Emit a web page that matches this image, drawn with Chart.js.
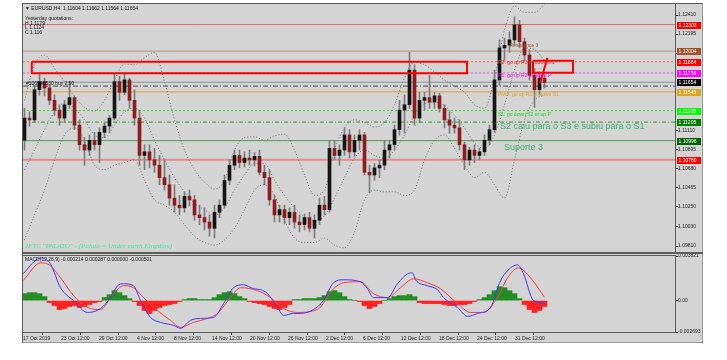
<!DOCTYPE html>
<html lang="pt-BR">
<head>
<meta charset="utf-8">
<title>EURUSD H4</title>
<script src="https://cdn.jsdelivr.net/npm/chart.js@4.4.1/dist/chart.umd.min.js"></script>
<style>
  body { margin: 0; width: 727px; height: 360px; background: #ffffff; position: relative; overflow: hidden; }
  #janela { position: absolute; left: 22px; top: 3px; width: 679px; height: 338px; background: #d4d4d4;
            border-left: 1px solid #5c5c5c; border-top: 1px solid #5c5c5c; border-right: 1px solid #9a9a9a; border-bottom: 1px solid #9a9a9a; }
  #graficoPreco { position: absolute; left: 0; top: 0; }
  #graficoMacd { position: absolute; left: 0; top: 253px; }
</style>
</head>
<body>
<div id="janela"></div>
<canvas id="graficoPreco" width="727" height="253"></canvas>
<canvas id="graficoMacd" width="727" height="107"></canvas>
<script>
const FONTE = '"Liberation Sans", Arial, sans-serif';

// Velas (cada vela = ~3 barras H4)
const aberturas = [
  1.1100, 1.1125, 1.1123, 1.1157, 1.1166, 1.1159, 1.1145, 1.1134, 1.1125, 1.1140,
  1.1148, 1.1117, 1.1095, 1.1089, 1.1100, 1.1095, 1.1109, 1.1116, 1.1125, 1.1166,
  1.1154, 1.1168, 1.1145, 1.1125, 1.1083, 1.1087, 1.1078, 1.1072, 1.1058, 1.1050,
  1.1035, 1.1027, 1.1024, 1.1037, 1.1033, 1.1016, 1.1013, 1.1008, 1.1001, 1.1019,
  1.1027, 1.1055, 1.1072, 1.1083, 1.1075, 1.1080, 1.1078, 1.1082, 1.1064, 1.1058,
  1.1033, 1.1016, 1.1022, 1.1013, 1.1019, 1.1008, 1.1005, 1.1013, 1.1001, 1.1010,
  1.1027, 1.1022, 1.1091, 1.1083, 1.1089, 1.1106, 1.1087, 1.1100, 1.1106, 1.1064,
  1.1061, 1.1069, 1.1072, 1.1089, 1.1095, 1.1112, 1.1134, 1.1140, 1.1179, 1.1125,
  1.1145, 1.1148, 1.1143, 1.1150, 1.1136, 1.1123, 1.1117, 1.1114, 1.1095, 1.1078,
  1.1089, 1.1083, 1.1087, 1.1100, 1.1112, 1.1168, 1.1204, 1.1207, 1.1213, 1.1230,
  1.1211, 1.1196, 1.1173, 1.1157, 1.1170
];
const maximas = [
  1.1136, 1.1132, 1.1162, 1.1176, 1.1170, 1.1162, 1.1151, 1.1140, 1.1145, 1.1166,
  1.1150, 1.1123, 1.1103, 1.1106, 1.1109, 1.1114, 1.1120, 1.1128, 1.1175, 1.1172,
  1.1176, 1.1170, 1.1157, 1.1134, 1.1095, 1.1095, 1.1091, 1.1083, 1.1078, 1.1061,
  1.1050, 1.1038, 1.1042, 1.1044, 1.1038, 1.1027, 1.1024, 1.1016, 1.1027, 1.1033,
  1.1061, 1.1078, 1.1089, 1.1089, 1.1087, 1.1089, 1.1086, 1.1089, 1.1072, 1.1067,
  1.1038, 1.1027, 1.1027, 1.1024, 1.1027, 1.1016, 1.1017, 1.1019, 1.1016, 1.1035,
  1.1037, 1.1100, 1.1100, 1.1095, 1.1114, 1.1112, 1.1106, 1.1112, 1.1109, 1.1072,
  1.1074, 1.1078, 1.1100, 1.1100, 1.1117, 1.1145, 1.1151, 1.1199, 1.1185, 1.1154,
  1.1154, 1.1173, 1.1154, 1.1153, 1.1140, 1.1132, 1.1125, 1.1123, 1.1098, 1.1092,
  1.1095, 1.1091, 1.1106, 1.1117, 1.1179, 1.1213, 1.1215, 1.1222, 1.1239, 1.1235,
  1.1215, 1.1202, 1.1181, 1.1177, 1.1173
];
const minimas = [
  1.1089, 1.1116, 1.1120, 1.1151, 1.1150, 1.1140, 1.1128, 1.1117, 1.1120, 1.1136,
  1.1112, 1.1089, 1.1072, 1.1083, 1.1089, 1.1075, 1.1103, 1.1109, 1.1123, 1.1145,
  1.1151, 1.1136, 1.1117, 1.1072, 1.1067, 1.1069, 1.1064, 1.1050, 1.1044, 1.1027,
  1.1019, 1.1016, 1.1019, 1.1026, 1.1010, 1.1005, 1.0999, 1.0992, 1.0990, 1.1013,
  1.1024, 1.1050, 1.1067, 1.1069, 1.1070, 1.1072, 1.1071, 1.1061, 1.1050, 1.1027,
  1.1008, 1.1008, 1.1006, 1.1005, 1.1001, 1.0997, 1.0999, 1.0997, 1.0990, 1.1005,
  1.1016, 1.1019, 1.1078, 1.1072, 1.1083, 1.1080, 1.1082, 1.1089, 1.1061, 1.1041,
  1.1055, 1.1058, 1.1067, 1.1080, 1.1089, 1.1106, 1.1108, 1.1136, 1.1117, 1.1120,
  1.1134, 1.1136, 1.1136, 1.1132, 1.1114, 1.1108, 1.1108, 1.1089, 1.1067, 1.1072,
  1.1075, 1.1078, 1.1083, 1.1095, 1.1109, 1.1162, 1.1190, 1.1199, 1.1207, 1.1204,
  1.1190, 1.1168, 1.1137, 1.1151, 1.1159
];
const fechamentos = [
  1.1125, 1.1123, 1.1157, 1.1166, 1.1159, 1.1145, 1.1134, 1.1125, 1.1140, 1.1148,
  1.1117, 1.1095, 1.1089, 1.1100, 1.1095, 1.1109, 1.1116, 1.1125, 1.1166, 1.1154,
  1.1168, 1.1145, 1.1125, 1.1083, 1.1087, 1.1078, 1.1072, 1.1058, 1.1050, 1.1035,
  1.1027, 1.1024, 1.1037, 1.1033, 1.1016, 1.1013, 1.1008, 1.1001, 1.1019, 1.1027,
  1.1055, 1.1072, 1.1083, 1.1075, 1.1080, 1.1078, 1.1082, 1.1064, 1.1058, 1.1033,
  1.1016, 1.1022, 1.1013, 1.1019, 1.1008, 1.1005, 1.1013, 1.1001, 1.1010, 1.1027,
  1.1022, 1.1091, 1.1083, 1.1089, 1.1106, 1.1087, 1.1100, 1.1106, 1.1064, 1.1061,
  1.1069, 1.1072, 1.1089, 1.1095, 1.1112, 1.1134, 1.1140, 1.1179, 1.1125, 1.1145,
  1.1148, 1.1143, 1.1150, 1.1136, 1.1123, 1.1117, 1.1114, 1.1095, 1.1078, 1.1089,
  1.1083, 1.1087, 1.1100, 1.1112, 1.1168, 1.1204, 1.1207, 1.1213, 1.1230, 1.1211,
  1.1196, 1.1173, 1.1157, 1.1170, 1.1165
];

// Bandas de Bollinger (pontos lidos a cada 2 velas)
const bandaX = [
  0, 2, 4, 6, 8, 10, 12, 14, 16, 18, 20, 22, 24, 26, 28, 30, 32, 34, 36, 38,
  40, 42, 44, 46, 48, 50, 52, 54, 56, 58, 60, 62, 64, 66, 68, 70, 72, 74, 76, 78,
  80, 82, 84, 86, 88, 90, 92, 94, 96, 98, 100, 102, 104
];
const bandaSuperior = [
  1.1145, 1.1185, 1.1196, 1.1181, 1.1166, 1.1149, 1.1137, 1.1133, 1.1145, 1.1168,
  1.1186, 1.1185, 1.1193, 1.1199, 1.1166, 1.1123, 1.1089, 1.1067, 1.1053, 1.1045,
  1.1055, 1.1089, 1.1103, 1.1104, 1.1100, 1.1105, 1.1107, 1.1089, 1.1061, 1.1038,
  1.1044, 1.1089, 1.1114, 1.1123, 1.1120, 1.1115, 1.1120, 1.1140, 1.1170, 1.1188,
  1.1185, 1.1177, 1.1168, 1.1161, 1.1154, 1.1140, 1.1136, 1.1170, 1.1224, 1.1251,
  1.1244, 1.1244, 1.1253
];
const bandaMedia = [
  1.1067, 1.1089, 1.1112, 1.1132, 1.1142, 1.1136, 1.1123, 1.1106, 1.1103, 1.1117,
  1.1132, 1.1136, 1.1125, 1.1100, 1.1078, 1.1058, 1.1042, 1.1029, 1.1022, 1.1016,
  1.1024, 1.1044, 1.1061, 1.1074, 1.1074, 1.1055, 1.1038, 1.1024, 1.1014, 1.1010,
  1.1015, 1.1035, 1.1058, 1.1080, 1.1089, 1.1083, 1.1080, 1.1089, 1.1106, 1.1128,
  1.1141, 1.1143, 1.1139, 1.1128, 1.1114, 1.1097, 1.1091, 1.1106, 1.1140, 1.1179,
  1.1204, 1.1202, 1.1190
];
const bandaInferior = [
  1.0988, 1.1016, 1.1044, 1.1078, 1.1106, 1.1114, 1.1100, 1.1072, 1.1067, 1.1072,
  1.1075, 1.1078, 1.1055, 1.1033, 1.1027, 1.1019, 1.1005, 1.0992, 1.0985, 1.0982,
  1.0988, 1.1001, 1.1022, 1.1044, 1.1050, 1.1038, 1.1010, 1.0990, 1.0985, 1.0985,
  1.0990, 1.0982, 1.0979, 1.0997, 1.1033, 1.1044, 1.1042, 1.1042, 1.1038, 1.1044,
  1.1078, 1.1100, 1.1106, 1.1091, 1.1072, 1.1058, 1.1064, 1.1050, 1.1035, 1.1078,
  1.1123, 1.1145, 1.1151
];

// Níveis horizontais (pivôs, suportes, resistências, preço atual)
const niveis = [1.12303, 1.12004, 1.11884, 1.11758, 1.11654, 1.11545, 1.11335, 1.11205, 1.10996, 1.10780];
const nivelOrdem = 1.11610;
const nivelCiano = 1.10810;

// Escala de preços e de tempo
const ticksPreco = [1.12410, 1.12195, 1.11980, 1.11110, 1.10895, 1.10680, 1.10465, 1.10250, 1.10030, 1.09810];
const posicoesTempo = [-0.3, 7.3, 14.9, 22.5, 29.9, 37.5, 45.1, 52.7, 60.3, 67.7, 75.3, 82.9, 90.5, 98.1];
const rotulosTempo = ["17 Oct 2019", "23 Oct 12:00", "29 Oct 12:00", "4 Nov 12:00", "8 Nov 12:00", "14 Nov 12:00",
  "20 Nov 12:00", "26 Nov 12:00", "2 Dec 12:00", "6 Dec 12:00", "12 Dec 12:00", "18 Dec 12:00",
  "24 Dec 12:00", "31 Dec 12:00"];

// MACD(12,26,9)
const histograma = [
  0.000594, 0.000679, 0.000679, 0.000594, 0.00034,
  -0.00017, -0.000425, -0.000764, -0.000679, -0.000509, -0.000425, -0.000594, -0.000509, -0.00034, -0.00017, -0.000085,
  0.000255, 0.000509, 0.000849, 0.000679, 0.000425, 0.00017,
  -0.000085, -0.000425, -0.000849, -0.001104, -0.000849, -0.000594, -0.000425, -0.00034, -0.000255, -0.000085,
  0.000085, 0.00017, 0.00017, 0.000085, 0.000085, 0.000085,
  0.000255, 0.000509, 0.000679, 0.000764, 0.000594, 0.00034, 0.00017,
  -0.000085, -0.00017, -0.000255, -0.00034, -0.000509, -0.000679, -0.000764, -0.000594, -0.00034,
  0.000085, 0.000085, 0.00017, 0.00017, 0.00017, 0.000255, 0.000425, 0.000764, 0.000849, 0.000679, 0.00034, 0.000085,
  0, -0.000085, -0.000425, -0.000679, -0.000509, -0.000255, 0,
  0.00017, 0.00034, 0.000425, 0.000425, 0.000509, 0.00034,
  -0.00017, -0.000255, -0.000255, -0.000255, -0.000255, -0.00034, -0.000425, -0.000425, -0.00034, -0.00034, -0.000255, -0.000085,
  0.000085, 0.000255, 0.000509, 0.000849, 0.001189, 0.001104, 0.000849, 0.000594, 0.00017,
  -0.00034, -0.000764, -0.001019, -0.000849, -0.000501
];
const macdX = [-0.3, 2.6, 3.6, 5.2, 7.2, 9.8, 12.6, 15.2, 17.2, 18.6, 19.8, 21.8, 23.2, 25.2, 27.2, 29.8, 31.2,
  33.2, 35.2, 37.8, 39.8, 41.8, 43.8, 45.8, 47.2, 48.6, 50.6, 51.8, 53.8, 55.2, 57.8, 59.8, 61.8, 63.8, 67.2,
  68.6, 69.8, 72.6, 74.6, 76.6, 77.6, 78.2, 80.6, 82.6, 83.8, 86.6, 88.6, 90.6, 93.2, 95.2, 97.2, 98.6, 99.8, 101.8, 104];
const macdLinha = [0.002292, 0.003566, 0.003651, 0.003141, 0.001104, 0, -0.001019, -0.000679, 0.000255, 0.001274,
  0.001443, 0.001274, 0, -0.001443, -0.001868, -0.002123, -0.002377, -0.001698, -0.001528, -0.001443, -0.000255,
  0.001104, 0.001358, 0.001019, 0.000934, 0.000594, -0.000594, -0.001274, -0.001104, -0.001104, -0.000764, 0,
  0.001528, 0.001783, 0.001613, 0.001019, 0.000255, 0.000255, 0.001443, 0.002292, 0.002377, 0.001783, 0.001274,
  0.000934, 0.000255, -0.000594, -0.001358, -0.001104, -0.000594, 0.001698, 0.002802, 0.003056, 0.002292, 0, -0.000214];
const sinalX = [-0.3, 3.2, 4.6, 7.2, 9.8, 12.6, 15.2, 17.8, 19.8, 21.8, 23.8, 26.6, 29.2, 31.2, 33.8, 36.6, 38.6,
  41.2, 43.2, 46.6, 49.2, 51.8, 54.6, 58.6, 61.8, 63.8, 67.2, 69.8, 72.6, 75.2, 77.8, 80.6, 83.2, 86.6, 89.2,
  91.8, 94.6, 96.6, 98.8, 101.2, 104];
const sinalLinha = [0.001698, 0.003226, 0.003141, 0.001953, 0.000425, -0.000594, -0.000764, 0.000594, 0.001274,
  0.001104, 0.000255, -0.000849, -0.001698, -0.002292, -0.001868, -0.001528, -0.001104, 0.000255, 0.001104,
  0.000849, 0.000255, -0.000679, -0.001019, -0.000764, 0.001019, 0.001528, 0.001613, 0.000594, 0.000255,
  0.001104, 0.001868, 0.001528, 0.001019, -0.000255, -0.001019, -0.001019, 0.000255, 0.001953, 0.002802,
  0.001953, 0.000287];
const ticksMacd = [0.003821, 0, -0.002693];
const rotulosMacd = ["0.003821", "0.00", "-0.002693"];

// Objetos desenhados sobre o gráfico (tempo em índice de vela, preço)
const retangulos = [
  { x0: 1.45, x1: 88.5, p0: 1.11884, p1: 1.11756 },
  { x0: 101.7, x1: 109.7, p0: 1.11895, p1: 1.11760 }
];
const linhaSeta = [{ x: 103.1, y: 1.1164 }, { x: 104.6, y: 1.1193 }];

const cabecalho = "\u25BC EURUSD,H4  1.11604 1.11662 1.11564 1.11654";
const cotacoesOntem = ["Yesterday quotations:", "H 1.1179", "L 1.1124", "C 1.116"];
const textoOrdem = "#106946530 buy 2.90";
const textosNiveis = [
  { texto: "Resistance 3", idx: 97.0, preco: 1.12070 },
  { texto: "R2: go up R3 or down R1", idx: 94.7, preco: 1.11870 },
  { texto: "R1: go up R2 or down P", idx: 94.7, preco: 1.11725 },
  { texto: "Pivot: go up R1 or down S1", idx: 94.7, preco: 1.11510 },
  { texto: "S1: go down S2 or up P", idx: 94.7, preco: 1.11290 }
];
const comentarios = [
  { texto: "S2 caiu para o S3 e subiu para o S1", idx: 95.1, preco: 1.11150 },
  { texto: "Suporte 3", idx: 95.9, preco: 1.10920 }
];
const assinatura = "JFTC \"PALATO\" - (Palato = Under earth Kingdom)";
const cabecalhoMacd = "MACD(12,26,9) -0.000214 0.000287 0.000000 -0.000501";

// ---- estilos ----
const xMin = -0.3, xMax = 130.1;
const precoMin = 1.09743, precoMax = 1.12534;
const macdMin = -0.002693, macdMax = 0.003821;

const estiloNiveis = [
  { linha: "#e86c6c", fundo: "#ff0000", traco: [], largura: 1 },
  { linha: "#b09888", fundo: "#a0522d", traco: [], largura: 1 },
  { linha: "#ff5a5a", fundo: "#ff0000", traco: [2, 2], largura: 1 },
  { linha: "#e050e0", fundo: "#ff00ff", traco: [2, 2], largura: 1 },
  { linha: "#8a949c", fundo: "#000000", traco: [], largura: 1 },
  { linha: "#d9a441", fundo: "#daa520", traco: [], largura: 1 },
  { linha: "#3ee03e", fundo: "#00ff00", traco: [2, 2], largura: 1 },
  { linha: "#2e9e2e", fundo: "#008000", traco: [4, 2, 1, 2], largura: 1 },
  { linha: "#4c9e4c", fundo: "#006400", traco: [], largura: 1 },
  { linha: "#f08888", fundo: "#ff0000", traco: [], largura: 2 }
];
const coresTextos = ["#a0522d", "#ff2a2a", "#ff00ff", "#d9a030", "#22dd22"];
const corVelaAlta = "#141414";
const corVelaBaixa = "#8e1c1c";
const corPavio = "#7c7c7c";
const corBanda = "#6a6a6a";

function linhaNivel(p) {
  return [{ x: xMin, y: p }, { x: xMax, y: p }];
}
function pontosBanda(valores) {
  return bandaX.map((x, i) => ({ x, y: valores[i] }));
}

const datasetsPreco = [];
niveis.forEach((p, i) => {
  datasetsPreco.push({
    type: "line", data: linhaNivel(p), borderColor: estiloNiveis[i].linha,
    borderWidth: estiloNiveis[i].largura, borderDash: estiloNiveis[i].traco,
    pointRadius: 0, order: 6
  });
});
datasetsPreco.push({ type: "line", data: linhaNivel(nivelOrdem), borderColor: "#4a4a4a", borderWidth: 1, borderDash: [5, 2, 1, 2], pointRadius: 0, order: 6 });
datasetsPreco.push({ type: "line", data: linhaNivel(nivelCiano), borderColor: "#a8e2e2", borderWidth: 1, pointRadius: 0, order: 6 });

[bandaSuperior, bandaMedia, bandaInferior].forEach((b) => {
  datasetsPreco.push({
    type: "line", data: pontosBanda(b), borderColor: corBanda, borderWidth: 1,
    borderDash: [1, 2], pointRadius: 0, cubicInterpolationMode: "monotone", order: 5
  });
});

datasetsPreco.push({
  type: "bar", data: minimas.map((l, i) => ({ x: i, y: [l, maximas[i]] })),
  backgroundColor: corPavio, barThickness: 1, grouped: false, order: 3
});
datasetsPreco.push({
  type: "bar", data: aberturas.map((o, i) => ({ x: i, y: [o, fechamentos[i]] })),
  backgroundColor: (c) => (fechamentos[c.dataIndex] >= aberturas[c.dataIndex] ? corVelaAlta : corVelaBaixa),
  barThickness: 3, minBarLength: 1, grouped: false, order: 2
});

retangulos.forEach((r) => {
  datasetsPreco.push({
    type: "line",
    data: [{ x: r.x0, y: r.p0 }, { x: r.x1, y: r.p0 }, { x: r.x1, y: r.p1 }, { x: r.x0, y: r.p1 }, { x: r.x0, y: r.p0 }],
    borderColor: "#ff0000", borderWidth: 2, pointRadius: 0, order: 1
  });
});
datasetsPreco.push({ type: "line", data: linhaSeta, borderColor: "#ff0000", borderWidth: 2, pointRadius: 0, order: 1 });

const desenhoPreco = {
  id: "desenhoPreco",
  afterDatasetsDraw(chart) {
    const { ctx, chartArea: a, scales: { x, y } } = chart;
    ctx.save();
    ctx.beginPath();
    ctx.rect(a.left, a.top, a.right - a.left, a.bottom - a.top);
    ctx.clip();
    ctx.textBaseline = "middle";
    ctx.font = "5px " + FONTE;
    ctx.fillStyle = "#111111";
    ctx.fillText(cabecalho, a.left + 2, a.top + 4.5);
    cotacoesOntem.forEach((t, i) => ctx.fillText(t, a.left + 2, a.top + 14.5 + i * 4.7));
    ctx.fillText(textoOrdem, a.left + 3, y.getPixelForValue(1.11633));

    textosNiveis.forEach((t, i) => {
      ctx.fillStyle = coresTextos[i];
      ctx.fillText(t.texto, x.getPixelForValue(t.idx), y.getPixelForValue(t.preco));
    });

    ctx.font = "9px " + FONTE;
    ctx.fillStyle = "#3cb371";
    comentarios.forEach((t) => ctx.fillText(t.texto, x.getPixelForValue(t.idx), y.getPixelForValue(t.preco)));

    ctx.font = 'italic 7px "Liberation Serif", serif';
    ctx.fillStyle = "#4be39b";
    ctx.fillText(assinatura, a.left + 2, y.getPixelForValue(1.09810));
    ctx.restore();
  },
  afterDraw(chart) {
    const { ctx, chartArea: a, scales: { y } } = chart;
    ctx.save();
    ctx.strokeStyle = "#5c5c5c";
    ctx.lineWidth = 1;
    ctx.strokeRect(a.left - 0.5, a.top - 0.5, a.right - a.left + 1, a.bottom - a.top + 1);
    ctx.fillStyle = "#5c5c5c";
    ctx.fillRect(22, a.bottom, 681, 1);

    ctx.font = "5px " + FONTE;
    ctx.textBaseline = "middle";
    niveis.forEach((p, i) => {
      const py = Math.round(y.getPixelForValue(p));
      ctx.fillStyle = estiloNiveis[i].fundo;
      ctx.fillRect(a.right + 2, py - 3, 24, 7);
      ctx.fillStyle = "#ffffff";
      ctx.fillText(p.toFixed(5), a.right + 3.5, py + 0.5);
    });
    ctx.restore();
  }
};

new Chart(document.getElementById("graficoPreco"), {
  type: "bar",
  data: { datasets: datasetsPreco },
  options: {
    responsive: false,
    animation: false,
    events: [],
    layout: { padding: { left: 23, top: 4, right: 0, bottom: 1 } },
    plugins: { legend: { display: false }, tooltip: { enabled: false } },
    scales: {
      x: { type: "linear", min: xMin, max: xMax, offset: false, bounds: "data", display: false },
      y: {
        type: "linear", position: "right", min: precoMin, max: precoMax, bounds: "data",
        afterBuildTicks: (s) => { s.ticks = ticksPreco.map((v) => ({ value: v })); },
        afterFit: (s) => { s.width = 52; s.paddingTop = 0; s.paddingBottom = 0; },
        ticks: { callback: (v) => v.toFixed(5), autoSkip: false, padding: 0, color: "#1e1e1e", font: { size: 5, family: FONTE } },
        grid: { drawOnChartArea: false, drawTicks: true, tickLength: 3, color: "#3a3a3a" },
        border: { display: false }
      }
    }
  },
  plugins: [desenhoPreco]
});

const desenhoMacd = {
  id: "desenhoMacd",
  afterDraw(chart) {
    const { ctx, chartArea: a } = chart;
    ctx.save();
    ctx.fillStyle = "#5c5c5c";
    ctx.fillRect(22, 0, 681, 1);
    ctx.strokeStyle = "#5c5c5c";
    ctx.lineWidth = 1;
    ctx.strokeRect(a.left - 0.5, a.top - 0.5, a.right - a.left + 1, a.bottom - a.top + 1);
    ctx.font = "5px " + FONTE;
    ctx.textBaseline = "middle";
    ctx.fillStyle = "#111111";
    ctx.fillText(cabecalhoMacd, a.left + 2, a.top + 3.5);
    ctx.restore();
  }
};

new Chart(document.getElementById("graficoMacd"), {
  type: "bar",
  data: {
    datasets: [
      {
        type: "line", data: macdX.map((x, i) => ({ x, y: macdLinha[i] })), borderColor: "#3c3cff",
        borderWidth: 1, pointRadius: 0, cubicInterpolationMode: "monotone", order: 1
      },
      {
        type: "line", data: sinalX.map((x, i) => ({ x, y: sinalLinha[i] })), borderColor: "#ff3c3c",
        borderWidth: 1, pointRadius: 0, cubicInterpolationMode: "monotone", order: 2
      },
      {
        type: "bar", data: histograma.map((v, i) => ({ x: i, y: v })),
        backgroundColor: (c) => (histograma[c.dataIndex] >= 0 ? "#238c23" : "#ff2020"),
        barThickness: 5, grouped: false, order: 3
      }
    ]
  },
  options: {
    responsive: false,
    animation: false,
    events: [],
    layout: { padding: { left: 23, top: 3, right: 0, bottom: 0 } },
    plugins: { legend: { display: false }, tooltip: { enabled: false } },
    scales: {
      x: {
        type: "linear", position: "bottom", min: xMin, max: xMax, offset: false, bounds: "data",
        afterBuildTicks: (s) => { s.ticks = posicoesTempo.map((v) => ({ value: v })); },
        afterFit: (s) => { s.height = 28; s.paddingLeft = 0; s.paddingRight = 0; },
        ticks: {
          callback: (v, i) => rotulosTempo[i], align: "start", autoSkip: false, maxRotation: 0, minRotation: 0,
          padding: 1, color: "#1e1e1e", font: { size: 5, family: FONTE }
        },
        grid: { drawOnChartArea: false, drawTicks: true, tickLength: 3, color: "#3a3a3a" },
        border: { display: false }
      },
      y: {
        type: "linear", position: "right", min: macdMin, max: macdMax, bounds: "data",
        afterBuildTicks: (s) => { s.ticks = ticksMacd.map((v) => ({ value: v })); },
        afterFit: (s) => { s.width = 52; s.paddingTop = 0; s.paddingBottom = 0; },
        ticks: { callback: (v, i) => rotulosMacd[i], autoSkip: false, padding: 0, color: "#1e1e1e", font: { size: 5, family: FONTE } },
        grid: { drawOnChartArea: false, drawTicks: true, tickLength: 3, color: "#3a3a3a" },
        border: { display: false }
      }
    }
  },
  plugins: [desenhoMacd]
});
</script>
</body>
</html>
